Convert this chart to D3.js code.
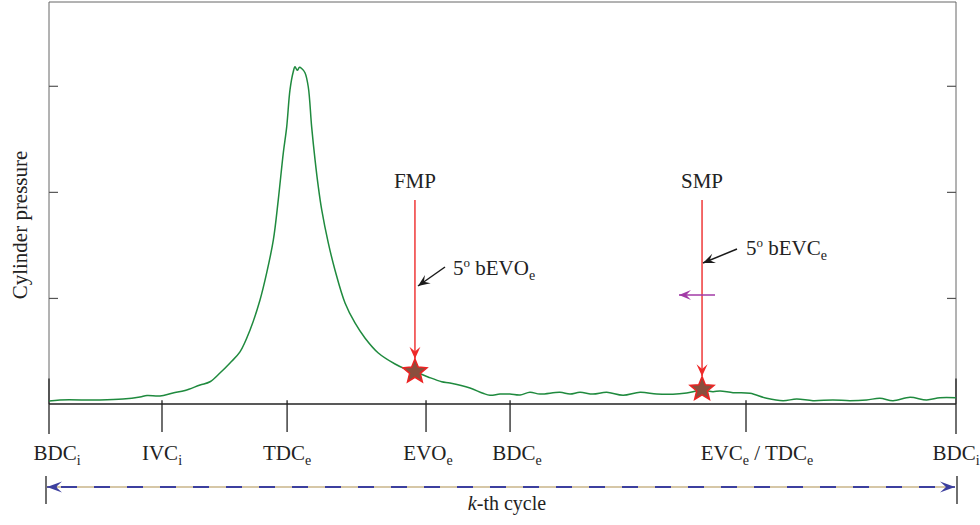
<!DOCTYPE html>
<html>
<head>
<meta charset="utf-8">
<script src="https://cdn.jsdelivr.net/npm/d3@7"></script>
<style>
  html, body { margin: 0; padding: 0; background: #fff; }
  svg { display: block; }
  text { font-family: "Liberation Serif", "Times New Roman", serif; fill: #222; }
</style>
</head>
<body>
<svg id="chart" width="980" height="525"></svg>
<script>
// ---------------- data ----------------
// crank angle over one cycle (deg, 0 = BDC of intake) and cylinder pressure (arb. units)
const angleDeg = [0, 8.7, 40.5, 58.7, 72.2, 77.8, 88.1, 98.4, 108.0, 119.9, 127.8, 135.7, 143.7, 151.6,
  159.6, 167.5, 172.8, 178.1, 182.0, 186.0, 188.7, 191.3, 193.9, 195.3, 197.1, 198.9, 200.8, 203.2,
  205.8, 208.5, 211.2, 213.8, 216.5, 221.7, 227.0, 235.0, 242.9, 250.8, 261.4, 274.7, 282.6, 290.5,
  300.9, 311.7, 318.3, 334.2, 344.5, 350.1, 358.0, 365.9, 373.9, 381.8, 389.8, 405.6, 413.6, 421.5,
  431.8, 442.7, 455.7, 469.2, 482.4, 495.3, 506.2, 518.4, 527.1, 532.7, 543.0, 556.5, 569.7, 582.7,
  593.5, 606.5, 622.3, 635.8, 649.1, 659.6, 670.0, 683.5, 696.7, 707.3, 720];
const pressure = [0.028, 0.038, 0.038, 0.047, 0.066, 0.080, 0.075, 0.104, 0.127, 0.179, 0.210, 0.292, 0.387, 0.491,
  0.698, 0.981, 1.236, 1.547, 1.925, 2.368, 2.613, 2.962, 3.132, 3.179, 3.146, 3.175, 3.160, 3.123,
  2.991, 2.613, 2.302, 2.047, 1.830, 1.519, 1.264, 0.953, 0.764, 0.623, 0.481, 0.377, 0.332, 0.305,
  0.255, 0.210, 0.198, 0.151, 0.101, 0.082, 0.094, 0.094, 0.085, 0.110, 0.094, 0.110, 0.094, 0.110,
  0.094, 0.110, 0.082, 0.110, 0.094, 0.092, 0.104, 0.130, 0.116, 0.123, 0.107, 0.101, 0.054, 0.031,
  0.047, 0.031, 0.038, 0.031, 0.038, 0.054, 0.031, 0.063, 0.038, 0.059, 0.059];

// bottom event ticks
const eventAngles = [0, 89.7, 189, 299.3, 366, 553.3, 720];
const eventLabels = [
  [["BDC", "i"]],
  [["IVC", "i"]],
  [["TDC", "e"]],
  [["EVO", "e"]],
  [["BDC", "e"]],
  [["EVC", "e"], [" / TDC", "e"]],
  [["BDC", "i"]]
];
// y ticks
const yTicks = [1, 2, 3];

// measurement points
const markNames = ["FMP", "SMP"];
const markAngles = [290.5, 518.4];
const markPressure = [0.305, 0.139];
const markNotes = [["5", "o", " bEVO", "e"], ["5", "o", " bEVC", "e"]];

// ---------------- layout ----------------
const svg = d3.select("#chart");
const x = d3.scaleLinear().domain([0, 720]).range([49, 956]);
const y = d3.scaleLinear().domain([0, 3.79]).range([404, 2]);
const FS = 21, SUB = 14;

const defs = svg.append("defs");
function barb(id, color, len, half) {
  defs.append("marker")
    .attr("id", id).attr("markerUnits", "userSpaceOnUse")
    .attr("viewBox", `${-len - 1} ${-half - 1} ${len + 2} ${2 * half + 2}`)
    .attr("refX", 0).attr("refY", 0)
    .attr("markerWidth", len + 2).attr("markerHeight", 2 * half + 2)
    .attr("orient", "auto")
    .append("path")
    .attr("d", `M0,0 L${-len},${-half} L${-len * 0.6},0 L${-len},${half} Z`)
    .attr("fill", color);
}
barb("redArrow", "#ee2a2a", 12, 5.5);
barb("blackArrow", "#1a1a1a", 12, 5);
barb("purpleArrow", "#a23aa6", 12, 5);
barb("blueArrow", "#3c3f9e", 15, 5.5);

// frame (left, top, right) in gray
const frame = svg.append("g").attr("stroke", "#666").attr("stroke-width", 1).attr("fill", "none");
frame.append("path").attr("d", `M${x(0)},${y(0)} V${y(3.79)} H${x(720)} V${y(0)}`);

// y ticks inward on both sides
svg.append("g").attr("transform", `translate(${x(0)},0)`)
  .call(d3.axisRight(y).tickValues(yTicks).tickSize(9).tickFormat(""))
  .call(g => g.select(".domain").remove())
  .call(g => g.selectAll("line").attr("stroke", "#555").attr("stroke-width", 1.2));
svg.append("g").attr("transform", `translate(${x(720)},0)`)
  .call(d3.axisLeft(y).tickValues(yTicks).tickSize(9).tickFormat(""))
  .call(g => g.select(".domain").remove())
  .call(g => g.selectAll("line").attr("stroke", "#555").attr("stroke-width", 1.2));

// bottom baseline
svg.append("line")
  .attr("x1", x(0)).attr("x2", x(720)).attr("y1", y(0)).attr("y2", y(0))
  .attr("stroke", "#222").attr("stroke-width", 1.3);

// event ticks
const evG = svg.append("g");
eventAngles.forEach((a, i) => {
  const isEnd = (i === 0 || i === eventAngles.length - 1);
  evG.append("line")
    .attr("x1", x(a)).attr("x2", x(a))
    .attr("y1", isEnd ? y(0.24) : y(0.035)).attr("y2", isEnd ? 434 : 432)
    .attr("stroke", "#222").attr("stroke-width", 1.3);
});

// event labels with subscripts
const labelDx = [8, 0, 0, 2, 7, 11, 0];
function richText(g, parts, size, subSize) {
  const t = g.append("text").attr("font-size", size);
  parts.forEach(([main, sub], k) => {
    t.append("tspan").attr("dy", k > 0 ? -5 : null).text(main);
    t.append("tspan").attr("font-size", subSize).attr("dy", 5).text(sub);
  });
  return t;
}
eventAngles.forEach((a, i) => {
  richText(svg, eventLabels[i], FS, SUB)
    .attr("x", x(a) + labelDx[i]).attr("y", 460).attr("text-anchor", "middle");
});

// pressure curve
const line = d3.line()
  .x((d, i) => x(angleDeg[i]))
  .y((d, i) => y(pressure[i]))
  .curve(d3.curveCatmullRom.alpha(0.5));
svg.append("path")
  .datum(pressure)
  .attr("d", line)
  .attr("fill", "none")
  .attr("stroke", "#1f8a3e")
  .attr("stroke-width", 1.5);

// measurement markers
function starPath(cx, cy, R, r) {
  const pts = [];
  for (let k = 0; k < 10; k++) {
    const rad = (k % 2 === 0) ? R : r;
    const ang = -Math.PI / 2 + k * Math.PI / 5;
    pts.push([cx + rad * Math.cos(ang), cy + rad * Math.sin(ang)]);
  }
  return "M" + pts.map(p => p.join(",")).join("L") + "Z";
}
const noteAnchor = [[453, 275, 445, 267, 418, 286], [746, 255, 737, 249, 703, 263]];
markNames.forEach((name, i) => {
  const cx = x(markAngles[i]);
  const cy = y(markPressure[i]);
  // label
  svg.append("text").attr("x", cx).attr("y", 188).attr("text-anchor", "middle")
    .attr("font-size", FS).text(name);
  // red arrow down to star
  svg.append("line")
    .attr("x1", cx).attr("x2", cx).attr("y1", 200).attr("y2", cy - 13)
    .attr("stroke", "#ee2a2a").attr("stroke-width", 1.4)
    .attr("marker-end", "url(#redArrow)");
  // star
  svg.append("path").attr("d", starPath(cx, cy, 12.6, 5.6))
    .attr("fill", "#8a4f3e").attr("stroke", "#ec2424").attr("stroke-width", 1.5)
    .attr("stroke-linejoin", "miter");
  // note arrow + text
  const [tx, ty, ax1, ay1, ax2, ay2] = noteAnchor[i];
  svg.append("line").attr("x1", ax1).attr("y1", ay1).attr("x2", ax2).attr("y2", ay2)
    .attr("stroke", "#1a1a1a").attr("stroke-width", 1.5)
    .attr("marker-end", "url(#blackArrow)");
  const n = markNotes[i];
  const t = svg.append("text").attr("x", tx).attr("y", ty).attr("font-size", FS);
  t.append("tspan").text(n[0]);
  t.append("tspan").attr("font-size", 13).attr("dy", -8).text(n[1]);
  t.append("tspan").attr("font-size", FS).attr("dy", 8).text(n[2]);
  t.append("tspan").attr("font-size", SUB).attr("dy", 5).text(n[3]);
});

// purple arrow (pointing left, toward earlier crank angle)
svg.append("line")
  .attr("x1", x(528.7)).attr("x2", x(500.1)).attr("y1", y(1.028)).attr("y2", y(1.028))
  .attr("stroke", "#a23aa6").attr("stroke-width", 1.5)
  .attr("marker-end", "url(#purpleArrow)");

// cycle span arrow
const spanY = 487;
svg.append("line").attr("x1", x(0) - 2).attr("x2", x(720) - 1).attr("y1", spanY).attr("y2", spanY)
  .attr("stroke", "#c8b488").attr("stroke-width", 1.6);
svg.append("line").attr("x1", x(0) + 12).attr("x2", x(720) - 12).attr("y1", spanY).attr("y2", spanY)
  .attr("stroke", "#3c3f9e").attr("stroke-width", 1.8).attr("stroke-dasharray", "16,17");
svg.append("line").attr("x1", x(0) + 8).attr("x2", x(0) - 2).attr("y1", spanY).attr("y2", spanY)
  .attr("stroke", "#3c3f9e").attr("stroke-width", 1.6).attr("marker-end", "url(#blueArrow)");
svg.append("line").attr("x1", x(720) - 10).attr("x2", x(720) - 1).attr("y1", spanY).attr("y2", spanY)
  .attr("stroke", "#3c3f9e").attr("stroke-width", 1.6).attr("marker-end", "url(#blueArrow)");
[x(0) - 3, x(720) + 1].forEach(px => {
  svg.append("line").attr("x1", px).attr("x2", px).attr("y1", 476).attr("y2", 504)
    .attr("stroke", "#222").attr("stroke-width", 1.3);
});
const kt = svg.append("text").attr("x", 507).attr("y", 510).attr("text-anchor", "middle").attr("font-size", 20);
kt.append("tspan").attr("font-style", "italic").text("k");
kt.append("tspan").text("-th cycle");

// y-axis title
svg.append("text")
  .attr("transform", "translate(27,225) rotate(-90)")
  .attr("text-anchor", "middle").attr("font-size", FS)
  .text("Cylinder pressure");
</script>
</body>
</html>
